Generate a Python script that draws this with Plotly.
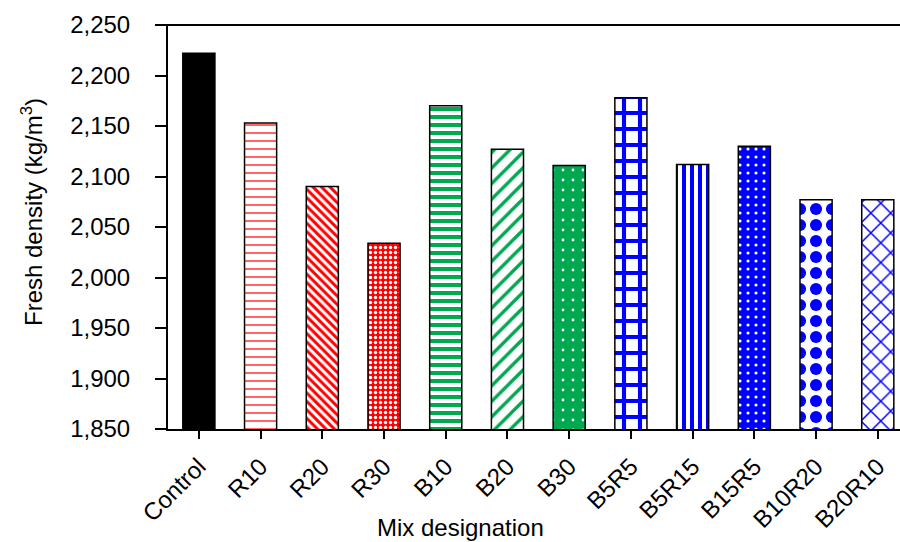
import plotly.graph_objects as go

categories = ["Control", "R10", "R20", "R30", "B10", "B20", "B30",
              "B5R5", "B5R15", "B15R5", "B10R20", "B20R10"]
density = [2222, 2153, 2090, 2034, 2170, 2127, 2111, 2178, 2112, 2130, 2077, 2077]
y_ticks = [1850, 1900, 1950, 2000, 2050, 2100, 2150, 2200, 2250]

RED = "#FF0000"
GREEN = "#00A850"
BLUE = "#0000FF"

# pattern per bar: (shape, fgcolor, bgcolor, size, solidity)
patterns = [
    ("", "#000000", "#000000", 8, 0.5),
    ("-", RED, "white", 8, 0.15),
    ("\\", RED, "white", 6, 0.5),
    (".", "white", RED, 5, 0.35),
    ("-", GREEN, "white", 8, 0.5),
    ("/", GREEN, "white", 11, 0.3),
    (".", "white", GREEN, 10, 0.06),
    ("+", BLUE, "white", 16, 0.45),
    ("|", BLUE, "white", 8, 0.5),
    (".", "white", BLUE, 8, 0.12),
    (".", BLUE, "white", 16, 0.45),
    ("x", BLUE, "white", 14, 0.2),
]

fig = go.Figure()
for i, (cat, val) in enumerate(zip(categories, density)):
    shp, fg, bg, sz, sol = patterns[i]
    fig.add_trace(go.Bar(
        x=[cat], y=[val], width=0.52,
        marker=dict(
            color=bg if shp else "#000000",
            line=dict(color="#000000", width=1.5),
            pattern=dict(shape=shp, fgcolor=fg, bgcolor=bg, size=sz,
                         solidity=sol, fillmode="replace"),
        ),
        showlegend=False,
    ))

font_main = dict(family="Liberation Sans, Arial, sans-serif", size=24, color="#000000")

fig.update_layout(
    width=900, height=542,
    margin=dict(l=168, r=0, t=25, b=113),
    paper_bgcolor="white", plot_bgcolor="white",
    font=font_main,
    xaxis=dict(
        type="category",
        categoryorder="array", categoryarray=categories,
        range=[-0.5, 11.36],
        showline=True, linecolor="#000000", linewidth=2,
        ticks="outside", ticklen=8, tickwidth=2, tickcolor="#000000",
        tickangle=-45, tickfont=font_main, ticklabelstandoff=4,
        showgrid=False, zeroline=False, automargin=False,
    ),
    yaxis=dict(
        range=[1850, 2250],
        tickvals=y_ticks, tickformat=",",
        showline=True, linecolor="#000000", linewidth=2,
        ticks="outside", ticklen=11, tickwidth=2, tickcolor="#000000",
        tickfont=font_main, ticklabelstandoff=20,
        showgrid=False, zeroline=False, automargin=False,
    ),
    annotations=[
        dict(text="Mix designation", xref="paper", yref="paper",
             x=(460 - 168) / 732, y=(429 - 527) / 404,
             xanchor="center", yanchor="middle", showarrow=False, font=font_main),
        dict(text="Fresh density (kg/m<sup>3</sup>)", xref="paper", yref="paper",
             x=(32 - 168) / 732, y=(429 - 212) / 404, textangle=-90,
             xanchor="center", yanchor="middle", showarrow=False, font=font_main),
    ],
)

fig.add_shape(type="line", xref="paper", yref="paper",
              x0=-11 / 732, x1=1, y0=1, y1=1,
              line=dict(color="#000000", width=2))

fig.write_html("out.html")
